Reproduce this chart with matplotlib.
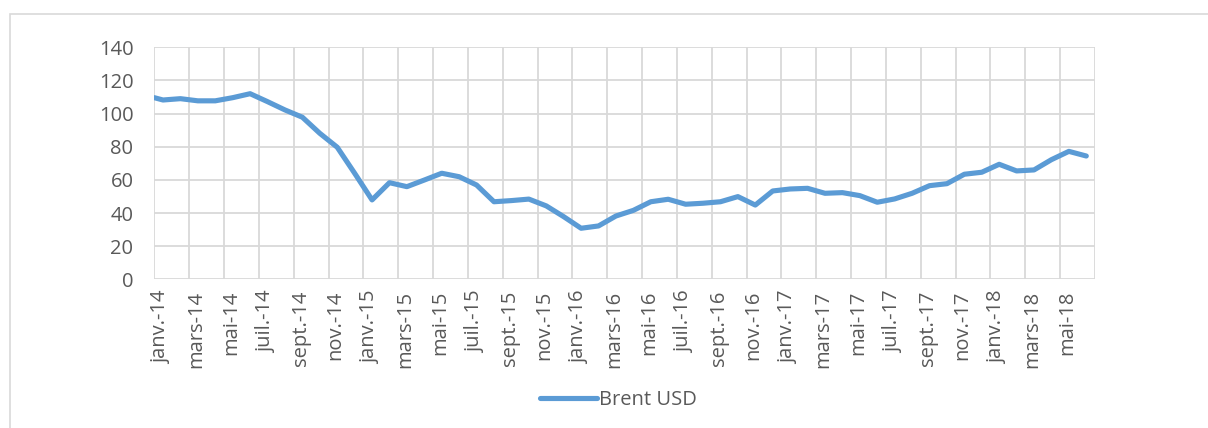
import matplotlib
matplotlib.use("Agg")
import matplotlib.pyplot as plt
import matplotlib.patches as mpatches
from matplotlib.transforms import ScaledTranslation
import numpy as np
import pandas as pd

# ---- data ----
series_name = "Brent USD"
start_value = 109.6  # value at the very start of the axis (1 Jan 2014)
months = pd.period_range("2014-01", "2018-06", freq="M")
brent = [108.2, 109.0, 107.7, 107.7, 109.6, 112.0, 107.2, 102.2, 97.8, 88.1,
         79.7, 64.0, 47.9, 58.3, 55.9, 59.9, 64.0, 61.9, 56.9, 46.8,
         47.5, 48.4, 44.3, 37.8, 30.8, 32.2, 38.2, 41.6, 46.8, 48.3,
         45.3, 45.9, 46.8, 49.9, 44.8, 53.3, 54.5, 54.9, 51.9, 52.3,
         50.5, 46.5, 48.5, 51.9, 56.5, 57.7, 63.4, 64.6, 69.4, 65.4,
         66.0, 72.2, 77.2, 74.4]
tick_labels = ["janv.-14", "mars-14", "mai-14", "juil.-14", "sept.-14", "nov.-14",
               "janv.-15", "mars-15", "mai-15", "juil.-15", "sept.-15", "nov.-15",
               "janv.-16", "mars-16", "mai-16", "juil.-16", "sept.-16", "nov.-16",
               "janv.-17", "mars-17", "mai-17", "juil.-17", "sept.-17", "nov.-17",
               "janv.-18", "mars-18", "mai-18"]
y_ticks = [0, 20, 40, 60, 80, 100, 120, 140]

# ---- figure ----
W, H = 1208, 428
fig = plt.figure(figsize=(W / 100, H / 100), dpi=100)
fig.patch.set_facecolor("white")

font = "Open Sans"
txt_color = "#595959"
grid_color = "#d9d9d9"
fs = 14.5

left, right, top, bottom = 154.3, 1095, 47.3, 279.3
ax = fig.add_axes([left / W, 1 - bottom / H, (right - left) / W, (bottom - top) / H])

# month positions: each monthly value sits mid-month
month_idx = np.arange(len(months))
x = np.concatenate([[0.0], month_idx + 0.5])
y = np.concatenate([[start_value], brent])

ax.plot(x, y, color="#5b9bd5", lw=3.7, solid_joinstyle="round",
        solid_capstyle="round", label=series_name, zorder=3)

n_axis = len(months)
ax.set_xlim(0, n_axis)
ax.set_ylim(0, 140)
grid_pos = np.arange(0, n_axis + 1, 2)
ax.set_xticks(grid_pos)
ax.set_xticklabels(tick_labels + [""] * (len(grid_pos) - len(tick_labels)),
                   rotation=90, fontsize=fs, color=txt_color, family=font,
                   va="top", ha="center")
ax.set_yticks(y_ticks)
ax.set_yticklabels([str(v) for v in y_ticks], fontsize=fs, color=txt_color,
                   family=font)
ax.tick_params(axis="both", length=0)
ax.tick_params(axis="y", pad=15)
ax.tick_params(axis="x", pad=8)
shift = ScaledTranslation(7 / 100, 0, fig.dpi_scale_trans)
for lab in ax.get_xticklabels():
    lab.set_transform(lab.get_transform() + shift)
ax.grid(True, color=grid_color, lw=1.3, zorder=0)
ax.set_axisbelow(True)
for s in ax.spines.values():
    s.set_visible(False)

# legend
leg = fig.legend(loc="center", bbox_to_anchor=(618.5 / W, 1 - 400 / H),
                 frameon=False, prop={"family": font, "size": fs},
                 handlelength=2.8, handletextpad=0.1, borderpad=0)
for t in leg.get_texts():
    t.set_color(txt_color)

# outer chart border
fig.patches.append(mpatches.Rectangle((10 / W, -0.1), 1.2, (1 - 14 / H) + 0.1,
                                      transform=fig.transFigure, fill=False,
                                      edgecolor=grid_color, lw=1.2))

fig.savefig("out.png", dpi=100)
